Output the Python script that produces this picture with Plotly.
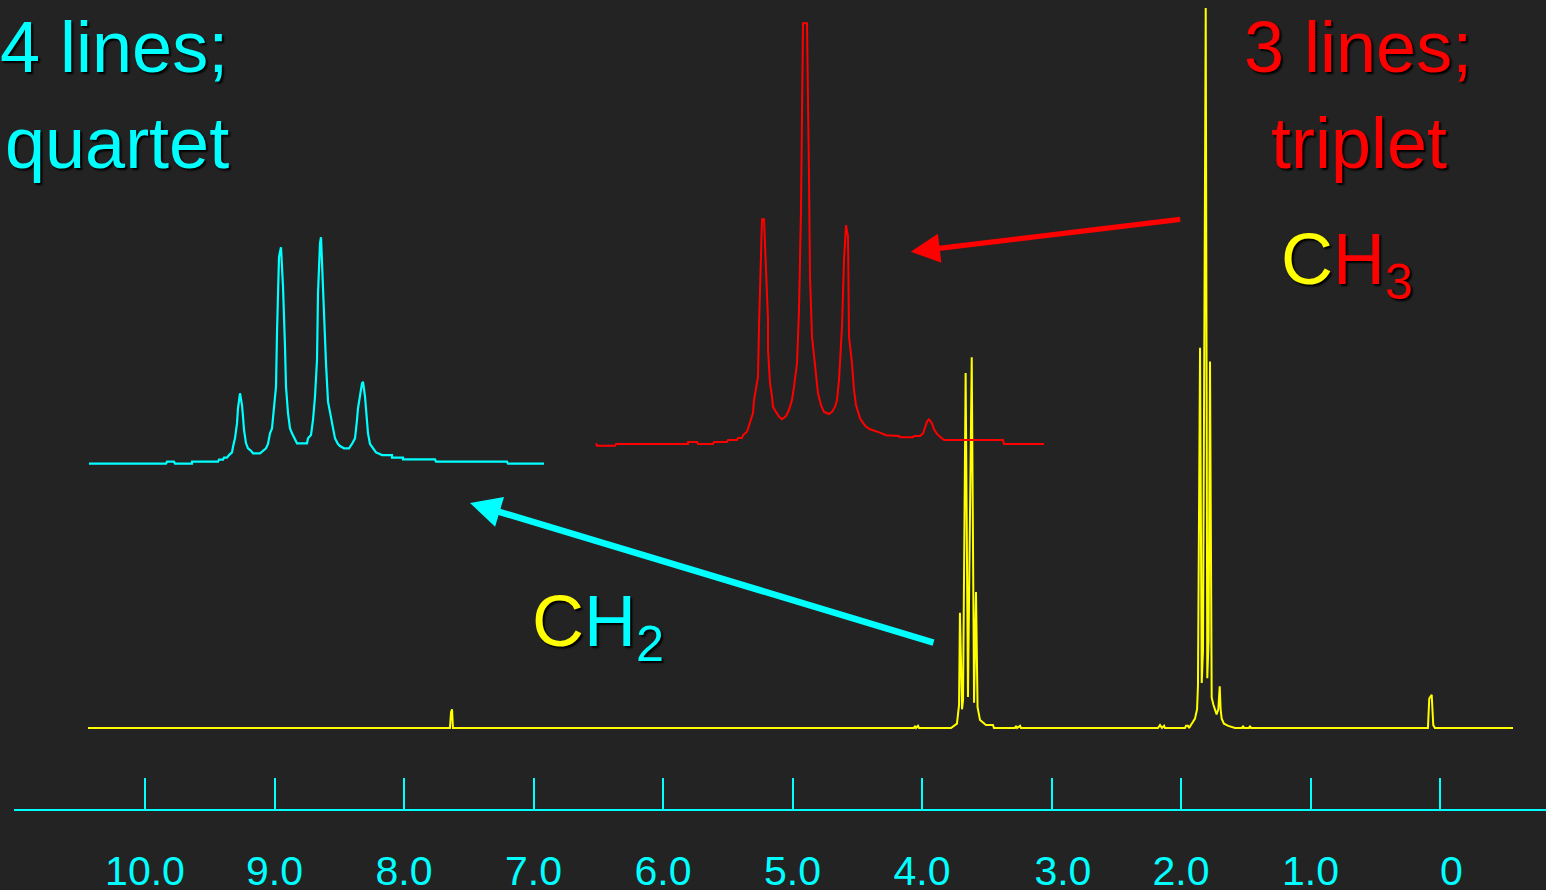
import plotly.graph_objects as go

# ---------------- data ----------------
# Full 1H NMR spectrum (chemical shift in ppm, relative intensity)
main_ppm = [10.44, 7.645, 7.637, 7.629, 7.622, 4.062, 4.054, 4.046, 4.031, 4.023,
            3.776, 3.745, 3.730, 3.714, 3.707, 3.691, 3.683, 3.663, 3.645, 3.616,
            3.598, 3.583, 3.571, 3.552, 3.529, 3.506, 3.452, 3.444, 3.282, 3.274,
            3.266, 3.243, 3.236, 2.178, 2.162, 2.147, 2.131, 2.124, 1.969, 1.961,
            1.946, 1.938, 1.917, 1.892, 1.876, 1.869, 1.853, 1.840, 1.830, 1.809,
            1.797, 1.787, 1.776, 1.763, 1.751, 1.725, 1.712, 1.701, 1.694, 1.686,
            1.668, 1.635, 1.583, 1.529, 1.521, 1.514, 1.475, 1.467, 1.459, 0.093,
            0.083, 0.064, 0.052, 0.039, -0.564]
main_int = [0, 0, 2.2, 2.6, 0, 0, 0.3, 0, 0.3, 0,
            0, 0.4, 0.6, 3.2, 16.0, 2.6, 3.9, 49.3, 4.3, 51.5,
            3.5, 18.9, 2.9, 1.1, 0.7, 0.4, 0.4, 0, 0, 0.3,
            0, 0.3, 0, 0, 0.4, 0, 0.3, 0, 0, 0.3,
            0.3, 0, 0.6, 1.3, 2.6, 5.9, 52.8, 6.25, 10.8, 100,
            6.9, 12.2, 50.9, 4.25, 3.3, 1.9, 2.6, 5.8, 2.6, 1.3,
            0.6, 0.3, 0, 0, 0.3, 0, 0, 0.3, 0, 0,
            4.1, 4.6, 0.4, 0, 0]

# Expanded CH2 quartet
quartet_ppm = [3.858, 3.781, 3.780, 3.773, 3.772, 3.755, 3.755, 3.729, 3.728, 3.724,
               3.723, 3.720, 3.718, 3.715, 3.714, 3.712, 3.710, 3.709, 3.707, 3.705,
               3.704, 3.703, 3.701, 3.699, 3.696, 3.694, 3.687, 3.684, 3.681, 3.679,
               3.677, 3.675, 3.674, 3.673, 3.671, 3.670, 3.669, 3.668, 3.666, 3.664,
               3.662, 3.661, 3.659, 3.657, 3.655, 3.652, 3.650, 3.640, 3.639, 3.636,
               3.634, 3.632, 3.630, 3.629, 3.627, 3.626, 3.624, 3.621, 3.619, 3.616,
               3.614, 3.612, 3.609, 3.607, 3.603, 3.598, 3.595, 3.592, 3.590, 3.589,
               3.585, 3.584, 3.582, 3.580, 3.579, 3.577, 3.574, 3.571, 3.569, 3.565,
               3.555, 3.555, 3.544, 3.544, 3.512, 3.511, 3.440, 3.439, 3.403]
quartet_int = [0, 0, 0.9, 0.9, 0, 0, 0.9, 0.9, 1.8, 1.8,
               2.65, 2.65, 3.8, 5.0, 7.5, 11.2, 17.8, 24.5, 31.1, 25.9,
               20.8, 14.9, 9.0, 6.8, 5.7, 4.6, 4.6, 5.7, 6.8, 8.7,
               13.4, 15.6, 20.8, 25.2, 34.0, 57.6, 73.8, 91.4, 95.6, 78.2,
               51.7, 34.0, 22.3, 15.6, 13.4, 10.9, 9.0, 9.0, 11.2, 12.7,
               19.3, 29.6, 45.8, 75.3, 97.3, 100, 73.8, 44.3, 27.4, 20.8,
               15.6, 11.2, 8.7, 7.8, 6.8, 6.8, 8.7, 11.2, 19.3, 24.5,
               35.5, 36.2, 29.6, 20.8, 13.4, 8.7, 6.8, 5.0, 4.6, 3.8,
               3.8, 2.65, 2.65, 1.9, 1.9, 0.9, 0.9, 0, 0]

# Expanded CH3 triplet
triplet_ppm = [2.019, 2.018, 2.000, 1.999, 1.927, 1.927, 1.918, 1.917, 1.902, 1.901,
               1.888, 1.887, 1.878, 1.877, 1.873, 1.872, 1.868, 1.865, 1.862, 1.861,
               1.857, 1.856, 1.854, 1.853, 1.851, 1.849, 1.847, 1.847, 1.845, 1.843,
               1.842, 1.839, 1.836, 1.833, 1.829, 1.826, 1.823, 1.821, 1.818, 1.816,
               1.814, 1.812, 1.808, 1.806, 1.805, 1.803, 1.801, 1.799, 1.797, 1.794,
               1.791, 1.786, 1.783, 1.780, 1.778, 1.776, 1.773, 1.771, 1.769, 1.767,
               1.766, 1.763, 1.761, 1.759, 1.755, 1.752, 1.749, 1.745, 1.740, 1.735,
               1.729, 1.716, 1.715, 1.702, 1.701, 1.695, 1.692, 1.690, 1.688, 1.686,
               1.683, 1.681, 1.678, 1.675, 1.671, 1.612, 1.611, 1.571]
triplet_int = [0.57, 0, 0, 0.4, 0.4, 0.9, 0.9, 0.4, 0.4, 0.9,
               0.9, 1.35, 1.35, 1.8, 1.8, 2.5, 3.3, 5.3, 7.7, 10.8,
               16.3, 28.2, 44.0, 53.6, 53.6, 40.0, 29.8, 22.7, 14.8, 11.6,
               9.2, 8.0, 6.9, 6.25, 7.0, 8.5, 10.8, 14.0, 19.5, 32.1,
               55.8, 100, 100, 63.7, 40.0, 25.8, 21.1, 16.3, 12.4, 9.6,
               8.0, 7.5, 8.0, 9.2, 10.8, 15.6, 28.2, 44.0, 52.2, 49.5,
               25.8, 19.5, 13.2, 9.6, 6.5, 5.4, 4.5, 3.9, 3.55, 3.1,
               2.5, 2.3, 2.0, 2.0, 2.3, 2.3, 2.9, 4.1, 5.7, 6.25,
               5.3, 3.9, 2.8, 2.1, 1.35, 1.35, 0.4, 0.4]

tick_vals = [10, 9, 8, 7, 6, 5, 4, 3, 2, 1, 0]
tick_text = ["10.0", "9.0", "8.0", "7.0", "6.0", "5.0", "4.0",
             "\u00a0\u00a03.0", "2.0", "1.0", "\u00a0\u00a00"]

# ---------------- layout constants ----------------
W, H = 1546, 890
ML, MR, MT, MB = 14, 0, 0, 81
PW, PH = W - ML - MR, H - MT - MB
BG = "#232323"
YELLOW, CYAN, RED = "#FFFF00", "#00FFFF", "#FF0000"
FONT = "Liberation Sans, Arial, sans-serif"
SHADOW = "2px 2px 2px #000000"


def fx(x):
    return (x - ML) / PW


def fy(y):
    return (H - MB - y) / PH


# main axis: 0 ppm at pixel 1440, 129.5 px per ppm
X0, SPP = 1440, 129.5
main_xrange = [(X0 - ML) / SPP, (X0 - W) / SPP]
BASE, SPI = 728, 7.2
main_yrange = [-(H - MB - BASE) / SPI, (BASE - MT) / SPI]

fig = go.Figure()
fig.add_trace(go.Scatter(x=main_ppm, y=main_int, mode="lines",
                         line=dict(color=YELLOW, width=2), xaxis="x", yaxis="y",
                         hoverinfo="skip", showlegend=False))
fig.add_trace(go.Scatter(x=quartet_ppm, y=quartet_int, mode="lines",
                         line=dict(color=CYAN, width=2.2), xaxis="x2", yaxis="y2",
                         hoverinfo="skip", showlegend=False))
fig.add_trace(go.Scatter(x=triplet_ppm, y=triplet_int, mode="lines",
                         line=dict(color=RED, width=2), xaxis="x3", yaxis="y3",
                         hoverinfo="skip", showlegend=False))

# inset boxes (pixel left, right, bottom, top, baseline, px per unit, ppm range)
q_box = (89, 544, 478, 225, 463.7, 2.264, [3.858, 3.403])
t_box = (595, 1045, 460, 15, 445.7, 4.224, [2.020, 1.570])


def inset_axes(box, n):
    l, r, b, t, base, s, xr = box
    xa = dict(domain=[fx(l), fx(r)], range=xr, visible=False, showgrid=False,
              zeroline=False, anchor="y%d" % n, automargin=False)
    ya = dict(domain=[fy(b), fy(t)], range=[-(b - base) / s, (base - t) / s],
              visible=False, showgrid=False, zeroline=False, anchor="x%d" % n,
              automargin=False)
    return xa, ya


xa2, ya2 = inset_axes(q_box, 2)
xa3, ya3 = inset_axes(t_box, 3)

annotations = []


def label(text, x, base_y, color, size=72, shift=0):
    annotations.append(dict(
        text=text, x=fx(x), y=fy(base_y - 0.3465 * size + shift),
        xref="paper", yref="paper", xanchor="left", yanchor="middle",
        showarrow=False, font=dict(family=FONT, size=size, color=color,
                                   shadow=SHADOW)))


label("4 lines;", -2, 72, CYAN)
label("quartet", 3, 168, CYAN)
label("3 lines;", 1242, 72, RED)
label("triplet", 1269, 168, RED)
label('<span style="color:#FFFF00">C</span>H<sub>3</sub>', 1279, 280, RED, shift=9)
label('<span style="color:#FFFF00">C</span>H<sub>2</sub>', 529.5, 642, CYAN, shift=9)


def arrow(tip, tail, color, width, size):
    annotations.append(dict(
        x=fx(tip[0]), y=fy(tip[1]), xref="paper", yref="paper",
        ax=tail[0] - tip[0], ay=tail[1] - tip[1], axref="pixel", ayref="pixel",
        text="", showarrow=True, arrowhead=2, arrowsize=size,
        arrowwidth=width, arrowcolor=color))


arrow((910.7, 251.7), (1181.7, 219.3), RED, 5.3, 1.1)
arrow((470, 503), (935, 643), CYAN, 6.5, 0.95)

fig.update_layout(
    template="none",
    width=W, height=H, autosize=False,
    margin=dict(l=ML, r=MR, t=MT, b=MB, pad=0, autoexpand=False),
    paper_bgcolor=BG, plot_bgcolor="rgba(0,0,0,0)",
    showlegend=False,
    xaxis=dict(range=main_xrange, domain=[0, 1], anchor="y", automargin=False,
               showgrid=False, zeroline=False, showline=True,
               linecolor=CYAN, linewidth=2, ticks="inside", ticklen=31,
               tickwidth=2, tickcolor=CYAN, tickvals=tick_vals,
               ticktext=tick_text, ticklabelstandoff=25,
               tickfont=dict(family=FONT, size=41, color=CYAN)),
    yaxis=dict(range=main_yrange, domain=[0, 1], anchor="x", visible=False,
               showgrid=False, zeroline=False, automargin=False),
    xaxis2=xa2, yaxis2=ya2, xaxis3=xa3, yaxis3=ya3,
    annotations=annotations,
)

fig.write_html(
    "out.html",
    config={"displayModeBar": False},
    post_script="document.body.style.margin='0';document.body.style.overflow='hidden';",
)
